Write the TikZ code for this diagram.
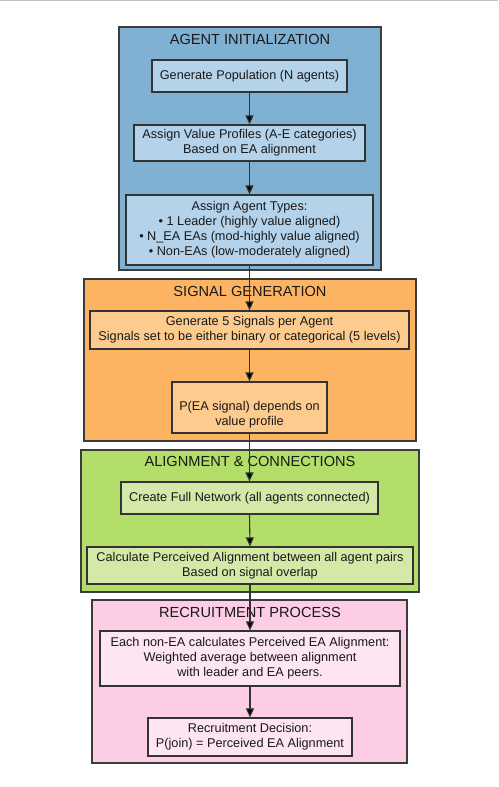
\documentclass[tikz,border=0pt]{standalone}
\usepackage{fontspec}
\setmainfont{Liberation Sans}
\usetikzlibrary{arrows.meta}
\definecolor{cBlue}{HTML}{80B1D3}
\definecolor{nBlue}{HTML}{B4D3EB}
\definecolor{cOrange}{HTML}{FDB462}
\definecolor{nOrange}{HTML}{FECB8F}
\definecolor{cGreen}{HTML}{B3DE69}
\definecolor{nGreen}{HTML}{D4E9A7}
\definecolor{cPink}{HTML}{FCCDE5}
\definecolor{nPink}{HTML}{FDE5F2}
\definecolor{edgeC}{HTML}{333333}
\definecolor{frameC}{HTML}{3C3C3C}
\tikzset{
  x=1pt, y=-1pt,
  cluster/.style={draw=frameC, line width=1.3pt, rectangle, inner sep=0pt},
  ctitle/.style={font=\fontsize{14.6}{17}\selectfont, inner sep=0pt, text=black!90},
  box/.style={draw=edgeC, line width=1.2pt, rectangle, inner sep=0pt, align=center,
    font=\fontsize{12.7}{15}\selectfont, text=black!90},
  flow/.style={draw=edgeC, line width=1.1pt, -{Triangle[width=8pt,length=9pt,fill=black]}}
}
\begin{document}
\begin{tikzpicture}
\useasboundingbox (0,0) rectangle (498,787);
\fill[white] (0,0) rectangle (498,787);
\draw[black!25, line width=1pt] (0,0.5) -- (498,0.5);
% clusters
\node[cluster, fill=cBlue, minimum width=262pt, minimum height=243pt] (c1) at (250,148.5) {};
\node[ctitle] (t1) at (250,39) {AGENT INITIALIZATION};
\node[cluster, fill=cOrange, minimum width=332pt, minimum height=162pt] (c2) at (250,360) {};
\node[ctitle] (t2) at (250,291) {SIGNAL GENERATION};
\node[cluster, fill=cGreen, minimum width=338pt, minimum height=142pt] (c3) at (250,521) {};
\node[ctitle] (t3) at (250,461) {ALIGNMENT \& CONNECTIONS};
\node[cluster, fill=cPink, minimum width=315pt, minimum height=163pt] (c4) at (249.5,681.5) {};
\node[ctitle] (t4) at (250,612) {RECRUITMENT PROCESS};
% nodes
\node[box, fill=nBlue, minimum width=195pt, minimum height=32pt] (n1) at (249.5,76) {Generate Population (N agents)};
\node[box, fill=nBlue, minimum width=231pt, minimum height=36pt] (n2) at (249.5,143) {Assign Value Profiles (A-E categories)\\Based on EA alignment};
\node[box, fill=nBlue, minimum width=247pt, minimum height=70pt] (n3) at (249.5,230) {Assign Agent Types:\\• 1 Leader (highly value aligned)\\• N\_EA EAs (mod-highly value aligned)\\• Non-EAs (low-moderately aligned)};
\node[box, fill=nOrange, minimum width=319pt, minimum height=38pt] (n4) at (249.5,330) {Generate 5 Signals per Agent\\Signals set to be either binary or categorical (5 levels)};
\node[box, fill=nOrange, minimum width=155pt, minimum height=51pt, align=none] (n5) at (249.5,407.5) {\raisebox{-7pt}[\height][\depth]{\begin{tabular}{@{}c@{}}P(EA signal) depends on\\value profile\end{tabular}}};
\node[box, fill=nGreen, minimum width=257pt, minimum height=32pt] (n6) at (249.5,498) {Create Full Network (all agents connected)};
\node[box, fill=nGreen, minimum width=326pt, minimum height=37pt] (n7) at (250,565.5) {Calculate Perceived Alignment between all agent pairs\\Based on signal overlap};
\node[box, fill=nPink, minimum width=300pt, minimum height=55pt] (n8) at (250,658.5) {Each non-EA calculates Perceived EA Alignment:\\Weighted average between alignment\\with leader and EA peers.};
\node[box, fill=nPink, minimum width=204pt, minimum height=38pt] (n9) at (250,737) {Recruitment Decision:\\P(join) = Perceived EA Alignment};
% edges
\foreach \a/\b in {n1/n2,n2/n3,n3/n4,n4/n5,n5/n6,n6/n7,n7/n8,n8/n9}
  \draw[flow] (\a.south) -- (\b.north);
\end{tikzpicture}
\end{document}
